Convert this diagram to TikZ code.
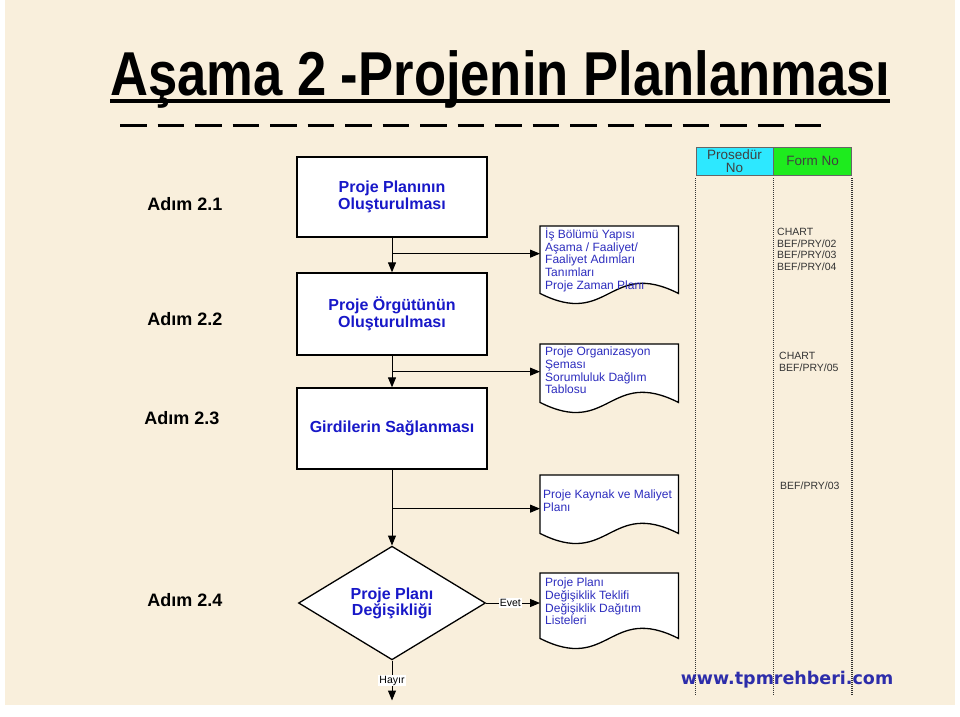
\documentclass[tikz,border=0pt]{standalone}
\usepackage{fontspec}
\setmainfont{Liberation Sans}
\newfontfamily\webfont{DejaVu Sans}
\usetikzlibrary{positioning,calc,arrows.meta,backgrounds,shapes.geometric}
\definecolor{cream}{RGB}{249,239,220}
\definecolor{boxblue}{RGB}{24,24,200}
\definecolor{docblue}{RGB}{45,45,190}
\definecolor{webblue}{RGB}{45,45,170}
\definecolor{procyan}{RGB}{45,232,255}
\definecolor{formgreen}{RGB}{30,235,30}
\newcommand{\docshape}[1]{%
  \filldraw[fill=white, draw=black, line width=1.3pt]
    (#1.north west) -- (#1.north east) -- (#1.south east)
    .. controls ($(#1.south east)!0.5!(#1.south west)+(0,-35)$)
    and ($(#1.south east)!0.5!(#1.south west)+(0,35)$) .. (#1.south west) -- cycle;
}

\begin{document}
\begin{tikzpicture}[x=1pt,y=-1pt,
    stepbox/.style={draw, line width=1.3pt, fill=white, minimum width=190, minimum height=81,
      text=boxblue, align=center, font=\bfseries\fontsize{16}{17}\selectfont},
    decision/.style={diamond, draw, line width=1.3pt, fill=white, minimum width=187, minimum height=88,
      inner sep=0pt, text=boxblue, align=center, font=\bfseries\fontsize{16}{16}\selectfont},
    docbox/.style={minimum width=138, anchor=north west, inner sep=0pt},
    doctext/.style={anchor=north west, inner sep=0pt, align=left, text=docblue,
      font=\fontsize{12}{12.6}\selectfont},
    steplabel/.style={font=\bfseries\fontsize{18}{18}\selectfont},
    formtext/.style={anchor=north west, inner sep=0pt, align=left, text=black!80,
      font=\fontsize{10.5}{11.6}\selectfont},
    hdr/.style={draw=black!60, line width=0.6pt, minimum height=28, align=center, inner sep=1pt,
      text=black!75, font=\fontsize{13.5}{13}\selectfont},
    colline/.style={black!80, line width=1.2pt, dash pattern=on 1pt off 1pt},
    arr/.style={-{Triangle[length=10pt,width=8pt]}, line width=1pt},
    lbl/.style={fill=white, inner sep=1pt, font=\fontsize{10.5}{10.5}\selectfont}]
  \useasboundingbox (0,0) rectangle (960,716);
  \begin{scope}[on background layer]
    \fill[cream] (5,0) rectangle (955,705);
  \end{scope}

  % title
  \node[anchor=base west, inner sep=0pt, xscale=0.848, font=\bfseries\fontsize{62}{62}\selectfont]
    (title) at (110,95) {Aşama 2 -Projenin Planlanması};
  \draw[line width=4pt] (110,101) -- (890,101);
  \draw[line width=3pt, dash pattern=on 26.5pt off 11pt] (120,125) -- (821,125);

  % steps
  \node[steplabel] (s1) at (185,204) {Adım 2.1};
  \node[steplabel] (s2) at (185,319) {Adım 2.2};
  \node[steplabel] (s3) at (182,418) {Adım 2.3};
  \node[steplabel] (s4) at (185,600) {Adım 2.4};

  \node[stepbox, minimum height=80] (plan) at (392,197) {Proje Planının\\Oluşturulması};
  \node[stepbox, minimum height=82] (org) at (392,314) {Proje Örgütünün\\Oluşturulması};
  \node[stepbox] (inp) at (392,428.5) {Girdilerin Sağlanması};
  \node[decision] (chg) at (392,603) {Proje Planı\\Değişikliği};

  % documents
  \node[docbox, minimum height=67] (doc1) at (540,226) {};
  \node[docbox, minimum height=58] (doc2) at (540,344) {};
  \node[docbox, minimum height=58] (doc3) at (540,475) {};
  \node[docbox, minimum height=65] (doc4) at (540,573) {};
  \begin{scope}[on background layer]
    \docshape{doc1}
    \docshape{doc2}
    \docshape{doc3}
    \docshape{doc4}
  \end{scope}
  \node[doctext] (t1) at ($(doc1.north west)+(5,2)$)
    {İş Bölümü Yapısı\\Aşama / Faaliyet/\\Faaliyet Adımları\\Tanımları\\Proje Zaman Planı};
  \node[doctext] (t2) at ($(doc2.north west)+(5,3)$)
    {Proje Organizasyon\\Şeması\\Sorumluluk Dağlım\\Tablosu};
  \node[doctext] (t3) at ($(doc3.north west)+(3,15)$)
    {Proje Kaynak ve Maliyet\\Planı};
  \node[doctext] (t4) at ($(doc4.north west)+(5,5)$)
    {Proje Planı\\Değişiklik Teklifi\\Değişiklik Dağıtım\\Listeleri};

  % connectors
  \draw[arr] (plan) -- (org);
  \draw[arr] (org) -- (inp);
  \draw[arr] (inp) -- (chg);
  \coordinate (b1) at ($(plan.south)+(0,16)$);
  \coordinate (b2) at ($(org.south)+(0,16)$);
  \coordinate (b3) at ($(inp.south)+(0,39)$);
  \draw[arr] (b1) -- (b1 -| doc1.west);
  \draw[arr] (b2) -- (b2 -| doc2.west);
  \draw[arr] (b3) -- (b3 -| doc3.west);
  \draw[arr] (chg.east) -- (chg.east -| doc4.west) node[lbl, pos=0.45] (evet) {Evet};
  \coordinate (hend) at ($(chg.south)+(0,40)$);
  \draw[arr] (chg.south) -- (hend) node[lbl, pos=0.5] (hayir) {Hayır};

  % procedure / form columns
  \node[hdr, fill=procyan, minimum width=77] (proc) at (734.5,161) {Prosedür\\No};
  \node[hdr, fill=formgreen, minimum width=78, right=0pt of proc] (form) {Form No};
  \coordinate (c1) at ($(proc.south west)+(0,3)$);
  \coordinate (c2) at ($(proc.south east)+(0,3)$);
  \coordinate (c3) at ($(form.south east)+(0,3)$);
  \draw[colline] (c1) -- ++(0,517);
  \draw[colline] (c2) -- ++(0,517);
  \draw[colline] (c3) -- ++(0,517);

  \node[formtext] (f1) at (777,228) {CHART\\BEF/PRY/02\\BEF/PRY/03\\BEF/PRY/04};
  \node[formtext] (f2) at (779,352) {CHART\\BEF/PRY/05};
  \node[formtext] (f3) at (780,482) {BEF/PRY/03};

  \node[text=webblue, font=\webfont\bfseries\fontsize{17.5}{17.5}\selectfont] (web) at (787,680)
    {www.tpmrehberi.com};
\end{tikzpicture}
\end{document}
